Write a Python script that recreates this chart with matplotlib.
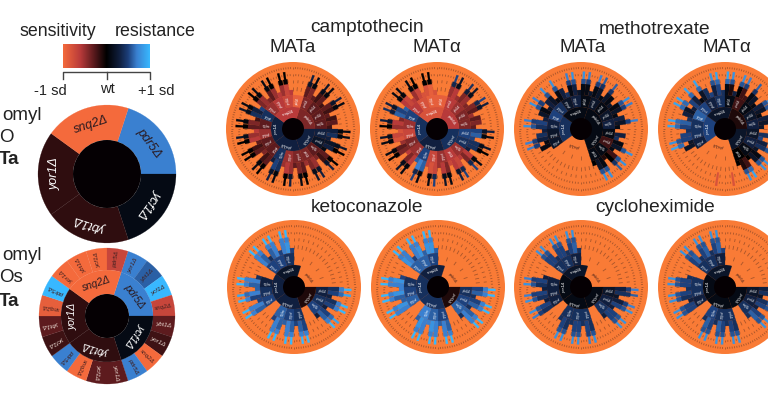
import numpy as np
import matplotlib
matplotlib.use('Agg')
import matplotlib.pyplot as plt
from matplotlib.patches import Wedge, Circle
from matplotlib.collections import LineCollection
from matplotlib.colors import LinearSegmentedColormap

plt.rcParams['font.family'] = ['Liberation Sans', 'DejaVu Sans']

# sector order is clockwise, starting at 72 degrees. values are tenths of one sd, -10 = full orange
genes = ['pdr5Δ', 'ycf1Δ', 'ybt1Δ', 'yor1Δ', 'snq2Δ']

single_ko = [7, 1, -1.5, -1.5, -10]
double_ko = [7, 6, 10, -7,  -3, -2, -10, 7,  -3, -3, -10, 7,  -2, -3, -9, 10,  -10, -10, -10, -7]
double_ko_labels = ['yor1Δ', 'ybt1Δ', 'ycf1Δ', 'snq2Δ',
                    'ybt1Δ', 'yor1Δ', 'snq2Δ', 'pdr5Δ',
                    'yor1Δ', 'ycf1Δ', 'snq2Δ', 'pdr5Δ',
                    'ycf1Δ', 'ybt1Δ', 'snq2Δ', 'pdr5Δ',
                    'yor1Δ', 'ybt1Δ', 'ycf1Δ', 'pdr5Δ']

campto_a_r1 = [-4, 3, 3, 3, -6]
campto_a_r2 = [-4, -3, -3, -3,  3, 2, -3, -4,  -4, -5, 4, -3,  -3, -5, -3, 4,  -5, -6, -7, -9]
campto_a_r3 = [-3, -4, -3, -2, -3, -2, -3, -2, -3, -2, -3, -2,
               3, 4, 3, 2, 3, 1, -3, -2, -4, -5, -4, -5,
               -3, -4, -3, -5, -6, -5, 4, 5, 3, -3, -2, -4,
               -3, -2, -3, -6, -5, -6, -3, -4, -2, 4, 3, 5,
               -4, -5, -4, -3, -5, -6, -5, -7, -6, -10, -10, -10]
campto_a_s = [3, 1, -10, 2, 1, -10, 3, 1, -10, -10, -10, -10,
              1, 1, -10, 2, 0, -10, 0, 3, -10, 3, 2, -10,
              0, 1, -10, 3, 0, -10, 1, 3, -10, 0, 1, -10,
              0, 0, -10, 0, 2, -10, 0, 1, -10, 2, 1, -10,
              0, 1, -10, 1, 0, -10, 0, 0, -10, -10, -10, -10]

campto_b_r1 = [-6, 4, 3, 4, -8]
campto_b_r2 = [-6, -5, -4, -4,  5, 4, -5, -6,  -5, -7, 5, -5,  -4, -7, -5, 5,  -6, -8, -9, -9]
campto_b_r3 = [-5, -6, -5, -4, -5, -4, -4, -3, -5, -3, -4, -3,
               5, 6, 5, 4, 4, 3, -6, -4, -6, -7, -6, -7,
               -4, -6, -5, -7, -8, -7, 6, 7, 6, -6, -4, -6,
               -4, -3, -5, -8, -7, -8, -5, -6, -4, 6, 5, 6,
               -6, -7, -6, -5, -7, -8, -8, -9, -8, -10, -10, -10]
campto_b_s = [5, 2, -10, 4, 2, -10, 5, 3, -10, -10, -10, -10,
              3, 1, -10, 2, 0, -10, 1, 5, -10, 5, 3, -10,
              1, 2, -10, 5, 1, -10, 1, 5, -10, 1, 2, -10,
              0, 1, -10, 1, 2, -10, 0, 3, -10, 4, 3, -10,
              1, 1, -10, 1, 0, -10, 0, 0, -10, -10, -10, -10]

metho_a_r1 = [1, 1, -10, 4, 1]
metho_a_r2 = [2, 1, 2, 3,  1, -2, 1, 1,  -10, -10, -10, -10,  2, 2, 3, 5,  4, 2, 3, 1]
metho_a_r3 = [1, 2, 1, 2, 1, 2, 1, 2, 1, 3, 2, 1,
              -10, 3, 4, 1, 2, 1, -2, 0, -1, 1, 2, 0,
              -10, -10, -10, -10, -10, -10, -10, -10, -10, -10, -10, -10,
              -10, 1, 1, 3, 4, 3, 4, 5, 3, 2, 1, 2,
              3, 2, 1, 1, 3, 4, 1, 3, 2, 1, 1, 2]
metho_a_s = [7, 6, -10, 6, -10, -10, 8, 7, -10, -10, 7, -10,
             -10, -10, -10, -10, 8, -10, 8, 6, -10, 8, 8, -10,
             -10, -10, -10, -10, -10, -10, -10, -10, -10, -10, -10, -10,
             -10, -10, 7, 7, -10, -10, 8, 7, -10, -10, 8, 7,
             -10, 8, -10, 8, -10, -10, 7, 8, -10, 8, 7, -10]

metho_b_r1 = [-1, 2, -10, 5, 2]
metho_b_r2 = [-2, 1, 2, 3,  2, 3, 1, 0,  -10, -10, -10, -10,  3, 4, 4, 6,  5, 3, 4, 1]
metho_b_r3 = [0, -2, -2, 1, 2, 1, 3, 2, 1, 3, 2, 2,
              -10, 4, 5, 3, 4, 2, 1, 2, 0, -2, -1, 0,
              -10, -10, -10, -10, -10, -10, -10, -10, -10, -10, -10, -10,
              -10, 2, 2, 5, 5, 4, 5, 6, 4, 3, 2, 3,
              5, 3, 1, 2, 4, 5, 3, 5, 4, 1, -1, 3]
metho_b_s = [8, 7, -10, 6, -10, -10, 8, 8, -10, -10, 8, -10,
             -10, -10, -10, -10, 8, -10, 8, 8, -10, 9, 8, -10,
             -10, -8, -10, -10, -8, -10, -10, -10, -10, -10, -10, -10,
             -10, -10, 9, 8, -10, -10, 9, 9, -10, -10, 9, 9,
             -10, 9, -10, 9, -10, -10, 8, 9, -10, 9, 8, -10]

keto_a_r1 = [-10, -1, 3, 3, 2]
keto_a_r2 = [-10, -10, -10, -10,  3, 4, 5, -10,  4, 5, 6, -10,  5, 4, 3, -10,  5, 5, 4, -10]
keto_a_r3 = [-10, -10, -10, -10, -10, -10, -10, -10, -10, -10, -10, -10,
             4, 5, 3, 4, 5, 3, 5, 6, 3, -10, -10, -10,
             5, 6, 5, 6, 7, 6, 6, 7, 5, -10, -10, -10,
             6, 7, 5, 5, 7, 6, 6, 7, 4, -10, -10, -10,
             7, 6, 4, 6, 7, 5, 7, 8, 5, -10, -10, -10]
keto_a_s = [-10, -10, -10, -10, -10, -10, -10, -10, -10, -10, -10, -10,
            10, 9, -10, 10, 10, -10, 9, 10, -10, -10, -10, -10,
            10, 10, -10, 10, 10, -10, 10, 10, -10, -10, -10, -10,
            10, 10, -10, 10, 9, -10, 10, 10, -10, -10, -10, -10,
            10, 10, -10, 10, 10, -10, 10, 10, -10, -10, -10, -10]

keto_b_r1 = [-10, -1, 4, 4, 3]
keto_b_r2 = [-10, -10, -10, -10,  4, 5, 6, -10,  5, 6, 7, -10,  6, 5, 4, -10,  6, 6, 5, -10]
keto_b_r3 = [-10, -10, -10, -10, -10, -10, -10, -10, -10, -10, -10, -10,
             5, 6, 4, 5, 6, 4, 6, 7, 4, -10, -10, -10,
             6, 7, 6, 7, 8, 7, 7, 8, 6, -10, -10, -10,
             7, 8, 6, 6, 8, 7, 7, 8, 5, -10, -10, -10,
             8, 7, 5, 7, 8, 6, 8, 8, 6, -10, -10, -10]
keto_b_s = [-10, -10, -10, -10, -10, -10, -10, -10, -10, -10, -10, -10,
            10, 10, -10, 10, 10, -10, 10, 10, -10, -10, -10, -10,
            10, 10, -10, 10, 10, -10, 10, 10, -10, -10, -10, -10,
            10, 10, -10, 10, 10, -10, 10, 10, -10, -10, -10, -10,
            10, 10, -10, 10, 10, -10, 10, 10, -10, -10, -10, -10]

cyclo_a_r1 = [-10, 1, 1, 1, 2]
cyclo_a_r2 = [-10, -10, -10, -10,  2, 3, 4, -10,  4, 4, 4, -10,  3, 3, 3, -10,  4, 4, 3, -10]
cyclo_a_r3 = [-10, -10, -10, -10, -10, -10, -10, -10, -10, -10, -10, -10,
              3, 4, 2, 3, 5, 3, 5, 5, 3, -10, -10, -10,
              4, 5, 4, 5, 5, 4, 4, 5, 4, -10, -10, -10,
              4, 5, 3, 4, 5, 3, 4, 5, 3, -10, -10, -10,
              5, 5, 4, 5, 5, 4, 5, 6, 4, -10, -10, -10]
cyclo_a_s = [-10, -10, -10, -10, -10, -10, -10, -10, -10, -10, -10, -10,
             7, 6, -10, 7, 8, -10, 8, 8, -10, -10, -10, -10,
             8, 7, -10, 8, 8, -10, 8, 8, -10, -10, -10, -10,
             7, 8, -10, 8, 7, -10, 8, 7, -10, -10, -10, -10,
             8, 8, -10, 8, 8, -10, 8, 8, -10, -10, -10, -10]

cyclo_b_r1 = [-10, 1, 1, 1, 2]
cyclo_b_r2 = [-10, -10, -10, -10,  2, 3, 4, -10,  4, 4, 5, -10,  3, 4, 4, -10,  4, 4, 3, -10]
cyclo_b_r3 = [-10, -10, -10, -10, -10, -10, -10, -10, -10, -10, -10, -10,
              3, 4, 2, 4, 5, 3, 5, 6, 4, -10, -10, -10,
              4, 5, 4, 5, 6, 4, 5, 6, 4, -10, -10, -10,
              5, 5, 3, 4, 5, 4, 5, 5, 4, -10, -10, -10,
              5, 6, 4, 5, 6, 4, 5, 6, 5, -10, -10, -10]
cyclo_b_s = [-10, -10, -10, -10, -10, -10, -10, -10, -10, -10, -10, -10,
             8, 7, -10, 8, 8, -10, 8, 8, -10, -10, -10, -10,
             8, 8, -10, 8, 8, -10, 8, 8, -10, -10, -10, -10,
             8, 8, -10, 8, 8, -10, 8, 8, -10, -10, -10, -10,
             8, 8, -10, 8, 8, -10, 8, 8, -10, -10, -10, -10]

ORANGE = '#f97b36'
cmap = LinearSegmentedColormap.from_list('sd', [
    (0.0, '#f46a3c'), (0.2, '#b83a3a'), (0.38, '#4a1518'), (0.5, '#000000'),
    (0.65, '#101f3e'), (0.75, '#1c3f7a'), (0.85, '#3a80d0'), (1.0, '#38b8ff')])


def col(v):
    return cmap((v + 10) / 20)


fig = plt.figure(figsize=(7.68, 4.16), dpi=100)
ax = fig.add_axes([0, 0, 1, 1])
ax.axis('off')


def Y(py):
    return 416 - py


def sector(cx, cy, r0, r1, a0, a1, color, z):
    ax.add_patch(Wedge((cx, Y(cy)), r1, a0, a1, width=r1 - r0, facecolor=color,
                       edgecolor=color, linewidth=0.15, zorder=z))


def tick_ring(cx, cy, r0, r1, step, color='#a8552a', lw=0.6):
    segs = []
    for a in np.deg2rad(np.arange(0, 360, step)):
        segs.append([(cx + r0 * np.cos(a), Y(cy) + r0 * np.sin(a)),
                     (cx + r1 * np.cos(a), Y(cy) + r1 * np.sin(a))])
    ax.add_collection(LineCollection(segs, colors=color, linewidths=lw, zorder=1))


def polar_text(cx, cy, r, a, s, rot, size, color, **kw):
    t = np.deg2rad(a)
    ax.text(cx + r * np.cos(t), Y(cy) + r * np.sin(t), s, rotation=rot, rotation_mode='anchor',
            ha='center', va='center', fontsize=size, color=color, zorder=8, **kw)


def sunburst(cx, cy, r1_vals, r2_vals, r3_vals, spikes):
    ax.add_patch(Circle((cx, Y(cy)), 67, facecolor=ORANGE, edgecolor='none', zorder=0))
    tick_ring(cx, cy, 60, 62, 2.25)
    tick_ring(cx, cy, 53, 55, 3)
    tick_ring(cx, cy, 46, 49, 6)
    tick_ring(cx, cy, 38, 42, 6)
    tick_ring(cx, cy, 27, 31, 18)
    for i, v in enumerate(spikes):
        a = 72 - (i + 0.5) * 6
        if v > -10:
            sector(cx, cy, 44, 57.5, a - 1.1, a + 1.1, col(v), 2)
            # the wider foot of a spike is a bit darker on the blue side
            foot = v * 0.7 if v > 0 else v
            if v > -8:
                sector(cx, cy, 44, 50, a - 2.5, a + 2.5, col(foot), 3)
    for i, v in enumerate(r3_vals):
        if v > -10:
            # last cell of each triple stops short, leaves the notch between the spike pairs
            outer = 39 if i % 3 == 2 else 45
            sector(cx, cy, 34, outer, 72 - (i + 1) * 6, 72 - i * 6, col(v), 4)
    for i, v in enumerate(r2_vals):
        a = 72 - (i + 0.5) * 18
        if v > -10:
            sector(cx, cy, 22, 34, 72 - (i + 1) * 18, 72 - i * 18, col(v), 5)
            polar_text(cx, cy, 28, a, double_ko_labels[i], a, 2.0, 'white')
    for i, v in enumerate(r1_vals):
        a = 72 - (i + 0.5) * 72
        if v > -10:
            sector(cx, cy, 10, 22, 72 - (i + 1) * 72, 72 - i * 72, col(v), 6)
        polar_text(cx, cy, 17, a, genes[i], a - 90, 3.2, 'white' if v > -10 else '#40201a',
                   style='italic')
    ax.add_patch(Circle((cx, Y(cy)), 11, facecolor='#050003', edgecolor='none', zorder=7))


# left pies
for i, v in enumerate(single_ko):
    sector(107, 174, 34, 69, 72 - (i + 1) * 72, 72 - i * 72, col(v), 2)
    a = 72 - (i + 0.5) * 72
    polar_text(107, 174, 52, a, genes[i], a - 90, 9, 'white' if v > -5 and v < 5 else '#2a1a20',
               style='italic')
ax.add_patch(Circle((107, Y(174)), 34, facecolor='#050003', edgecolor='none', zorder=3))

for i, v in enumerate(double_ko):
    a = 72 - (i + 0.5) * 18
    sector(107, 316, 46, 68, 72 - (i + 1) * 18, 72 - i * 18, col(v), 2)
    polar_text(107, 316, 57, a, double_ko_labels[i], a, 4.5, '#e8d8d0' if -5 < v < 5 else '#402020',
               style='italic')
for i, v in enumerate(single_ko):
    a = 72 - (i + 0.5) * 72
    sector(107, 316, 22, 46, 72 - (i + 1) * 72, 72 - i * 72, col(v), 3)
    polar_text(107, 316, 34, a, genes[i], a - 90, 7.5, 'white' if -5 < v < 5 else '#2a1a20',
               style='italic')
ax.add_patch(Circle((107, Y(316)), 22, facecolor='#050003', edgecolor='none', zorder=4))

# big discs
sunburst(293, 129, campto_a_r1, campto_a_r2, campto_a_r3, campto_a_s)
sunburst(437, 129, campto_b_r1, campto_b_r2, campto_b_r3, campto_b_s)
sunburst(581, 129, metho_a_r1, metho_a_r2, metho_a_r3, metho_a_s)
sunburst(725, 129, metho_b_r1, metho_b_r2, metho_b_r3, metho_b_s)
sunburst(294, 287, keto_a_r1, keto_a_r2, keto_a_r3, keto_a_s)
sunburst(438, 287, keto_b_r1, keto_b_r2, keto_b_r3, keto_b_s)
sunburst(581, 287, cyclo_a_r1, cyclo_a_r2, cyclo_a_r3, cyclo_a_s)
sunburst(725, 287, cyclo_b_r1, cyclo_b_r2, cyclo_b_r3, cyclo_b_s)

# colour key
ax.imshow(np.linspace(0, 1, 256).reshape(1, -1), cmap=cmap, aspect='auto',
          extent=(63, 150, Y(68), Y(44)), zorder=2)
ax.plot([63, 63, 150, 150], [Y(79), Y(72), Y(72), Y(79)], color='#444444', lw=1)
ax.plot([107, 107], [Y(72), Y(79)], color='#444444', lw=1)

ax.set_xlim(0, 768)
ax.set_ylim(0, 416)

txt = dict(ha='center', va='center', color='#222222')
ax.text(58, Y(31), 'sensitivity', fontsize=12.8, **txt)
ax.text(155, Y(31), 'resistance', fontsize=12.8, **txt)
ax.text(50, Y(91), '-1 sd', fontsize=10.5, **txt)
ax.text(107, Y(89), 'wt', fontsize=10.5, **txt)
ax.text(156, Y(91), '+1 sd', fontsize=10.5, **txt)

ax.text(367, Y(27), 'camptothecin', fontsize=13.8, **txt)
ax.text(655, Y(29), 'methotrexate', fontsize=13.8, **txt)
ax.text(367, Y(208), 'ketoconazole', fontsize=13.8, **txt)
ax.text(655, Y(208), 'cycloheximide', fontsize=13.8, **txt)
for x, s in [(293, 'MATa'), (437, 'MATα'), (583, 'MATa'), (727, 'MATα')]:
    ax.text(x, Y(47), s, fontsize=13.5, **txt)

for y, s, x in [(115, 'omyl', 42), (137, 'O', 14), (160, 'Ta', 19),
                (255, 'omyl', 42), (278, 'Os', 23), (302, 'Ta', 19)]:
    ax.text(x, Y(y), s, fontsize=13.5, ha='right', va='center', color='#222222',
            fontweight='bold' if s == 'Ta' else 'normal')

fig.savefig('out.png', dpi=100)
